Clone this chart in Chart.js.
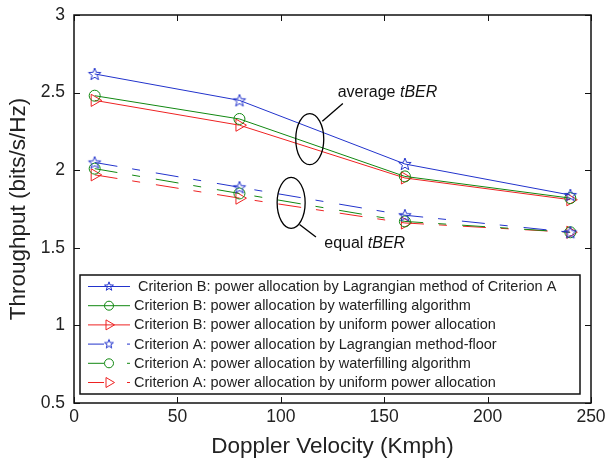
<!DOCTYPE html>
<html>
<head>
<meta charset="utf-8">
<script src="https://cdn.jsdelivr.net/npm/chart.js@4.4.0/dist/chart.umd.min.js"></script>
<style>
  html, body { margin: 0; padding: 0; background: #fff; }
  #wrap { width: 609px; height: 460px; }
</style>
</head>
<body>
<div id="wrap"><canvas id="chart" width="609" height="460"></canvas></div>
<script>
// doppler velocity (Kmph)
const velocities = [10, 80, 160, 240];
// average tBER (Criterion B)
const critBLagrange = [2.62, 2.45, 2.04, 1.84];
const critBWaterfill = [2.48, 2.33, 1.96, 1.82];
const critBUniform = [2.45, 2.29, 1.95, 1.81];
// equal tBER (Criterion A)
const critALagrange = [2.05, 1.89, 1.71, 1.60];
const critAWaterfill = [2.01, 1.85, 1.67, 1.60];
const critAUniform = [1.97, 1.82, 1.66, 1.60];

const seriesLabels = [
  "Criterion B: power allocation by Lagrangian method of Criterion A",
  "Criterion B: power allocation by waterfilling algorithm",
  "Criterion B: power allocation by uniform power allocation",
  "Criterion A: power allocation by Lagrangian method-floor",
  "Criterion A: power allocation by waterfilling algorithm",
  "Criterion A: power allocation by uniform power allocation"
];
const xTicks = [0, 50, 100, 150, 200, 250];
const yTicks = [0.5, 1, 1.5, 2, 2.5, 3];

const BLUE = '#2233cc';
const GREEN = '#118811';
const RED = '#ee2222';
const DASH = [23, 15, 8, 16];
const FONT = '"Liberation Sans", Arial, Helvetica, sans-serif';

function starImage(color, k) {
  const c = document.createElement('canvas');
  c.width = 16; c.height = 16;
  const g = c.getContext('2d');
  g.strokeStyle = color;
  g.lineWidth = 1;
  g.beginPath();
  for (let i = 0; i < 10; i++) {
    const r = (i % 2 === 0 ? 6.5 : 2.7) * k;
    const a = -Math.PI / 2 + i * Math.PI / 5;
    const px = 8 + r * Math.cos(a), py = 8.5 + r * Math.sin(a);
    if (i === 0) g.moveTo(px, py); else g.lineTo(px, py);
  }
  g.closePath();
  g.stroke();
  return c;
}

function toPoints(arr) {
  return velocities.map((v, i) => ({ x: v, y: arr[i] }));
}

const styles = [
  { data: critBLagrange, color: BLUE, marker: 'star', dash: [] },
  { data: critBWaterfill, color: GREEN, marker: 'circle', dash: [] },
  { data: critBUniform, color: RED, marker: 'triangle', dash: [] },
  { data: critALagrange, color: BLUE, marker: 'star', dash: DASH },
  { data: critAWaterfill, color: GREEN, marker: 'circle', dash: DASH },
  { data: critAUniform, color: RED, marker: 'triangle', dash: DASH }
];

const datasets = styles.map((s, i) => ({
  label: seriesLabels[i],
  data: toPoints(s.data),
  borderColor: s.color,
  backgroundColor: 'rgba(0,0,0,0)',
  borderWidth: 1,
  borderDash: s.dash,
  pointStyle: s.marker === 'star' ? starImage(s.color, 1) : s.marker,
  pointRotation: s.marker === 'triangle' ? 90 : 0,
  pointRadius: s.marker === 'triangle' ? 7 : 5.5,
  pointBorderColor: s.color,
  pointBackgroundColor: 'rgba(0,0,0,0)',
  pointBorderWidth: 1,
  tension: 0
}));

// smaller markers for the legend samples
function drawMarker(ctx, s, x, y) {
  ctx.save();
  ctx.setLineDash([]);
  ctx.strokeStyle = s.color;
  ctx.lineWidth = 1;
  if (s.marker === 'star') {
    ctx.drawImage(starImage(s.color, 0.72), x - 8, y - 8.5);
  } else if (s.marker === 'circle') {
    ctx.beginPath();
    ctx.arc(x, y, 4.5, 0, Math.PI * 2);
    ctx.stroke();
  } else {
    ctx.beginPath();
    ctx.moveTo(x + 5.5, y);
    ctx.lineTo(x - 3, y - 5);
    ctx.lineTo(x - 3, y + 5);
    ctx.closePath();
    ctx.stroke();
  }
  ctx.restore();
}

const framePlugin = {
  id: 'framePlugin',
  afterDraw(chart) {
    const { ctx, chartArea: a, scales } = chart;
    ctx.save();
    ctx.strokeStyle = '#111';
    ctx.lineWidth = 1.5;
    ctx.strokeRect(a.left, a.top, a.right - a.left, a.bottom - a.top);
    ctx.lineWidth = 1;
    ctx.beginPath();
    const tl = 6;
    xTicks.forEach(v => {
      const px = Math.round(scales.x.getPixelForValue(v)) + 0.5;
      ctx.moveTo(px, a.bottom); ctx.lineTo(px, a.bottom - tl);
      ctx.moveTo(px, a.top); ctx.lineTo(px, a.top + tl);
    });
    yTicks.forEach(v => {
      const py = Math.round(scales.y.getPixelForValue(v)) + 0.5;
      ctx.moveTo(a.left, py); ctx.lineTo(a.left + tl, py);
      ctx.moveTo(a.right, py); ctx.lineTo(a.right - tl, py);
    });
    ctx.stroke();

    // annotations
    const ann = [
      { cx: 114, cy: 2.2, label: 'average ', tx: 127.5, ty: 2.5, lx0: 0.9, ly0: -0.7, lx1: 130, ly1: 2.43 },
      { cx: 105, cy: 1.79, label: 'equal ', tx: 121, ty: 1.53, lx0: 0.6, ly0: 0.85, lx1: 117, ly1: 1.57 }
    ];
    ann.forEach(n => {
      const cx = scales.x.getPixelForValue(n.cx), cy = scales.y.getPixelForValue(n.cy);
      const rx = 14, ry = 25.5;
      ctx.strokeStyle = '#000';
      ctx.lineWidth = 1.3;
      ctx.beginPath();
      ctx.ellipse(cx, cy, rx, ry, 0, 0, Math.PI * 2);
      ctx.stroke();
      ctx.beginPath();
      ctx.moveTo(cx + rx * n.lx0, cy + ry * n.ly0);
      ctx.lineTo(scales.x.getPixelForValue(n.lx1), scales.y.getPixelForValue(n.ly1));
      ctx.stroke();
      const tx = scales.x.getPixelForValue(n.tx), ty = scales.y.getPixelForValue(n.ty);
      ctx.fillStyle = '#111';
      ctx.textBaseline = 'middle';
      ctx.textAlign = 'left';
      ctx.font = '16px ' + FONT;
      ctx.fillText(n.label, tx, ty);
      const w = ctx.measureText(n.label).width;
      ctx.font = 'italic 16px ' + FONT;
      ctx.fillText('tBER', tx + w, ty);
    });

    // legend inside the axes
    const lx = a.left + 6, ly = 275, lw = 500, lh = 119;
    ctx.fillStyle = '#fff';
    ctx.fillRect(lx, ly, lw, lh);
    ctx.strokeStyle = '#111';
    ctx.lineWidth = 1.5;
    ctx.strokeRect(lx, ly, lw, lh);
    ctx.font = '14.5px ' + FONT;
    ctx.textBaseline = 'middle';
    styles.forEach((s, i) => {
      const y = ly + 11.5 + i * 19.2;
      ctx.strokeStyle = s.color;
      ctx.lineWidth = 1;
      ctx.beginPath();
      if (s.dash.length) {
        ctx.moveTo(lx + 8, y); ctx.lineTo(lx + 24, y);
        ctx.moveTo(lx + 47, y); ctx.lineTo(lx + 50, y);
      } else {
        ctx.moveTo(lx + 8, y); ctx.lineTo(lx + 50, y);
      }
      ctx.stroke();
      drawMarker(ctx, s, lx + 29, y);
      ctx.fillStyle = '#222';
      ctx.fillText(seriesLabels[i], lx + (i === 0 ? 58 : 54), y + 0.5);
    });
    ctx.restore();
  }
};

new Chart(document.getElementById('chart'), {
  type: 'line',
  data: { datasets },
  options: {
    responsive: false,
    animation: false,
    layout: { padding: { left: 0, right: 18, top: 15, bottom: 0 } },
    plugins: { legend: { display: false }, tooltip: { enabled: false } },
    scales: {
      x: {
        type: 'linear',
        min: 0, max: 250,
        grid: { display: false, drawTicks: false },
        border: { display: false },
        ticks: { stepSize: 50, color: '#222', font: { family: FONT, size: 17.5 }, padding: 4, maxRotation: 0 },
        title: { display: true, text: 'Doppler Velocity (Kmph)', color: '#222', font: { family: FONT, size: 22.5 }, padding: { top: 0, bottom: 0 } },
        afterFit(scale) { scale.height = 57; scale.paddingLeft = 0; scale.paddingRight = 0; }
      },
      y: {
        min: 0.5, max: 3,
        grid: { display: false, drawTicks: false },
        border: { display: false },
        ticks: {
          stepSize: 0.5, color: '#222', font: { family: FONT, size: 17.5 }, padding: 9,
          callback: v => String(Number(v))
        },
        title: { display: true, text: 'Throughput (bits/s/Hz)', color: '#222', font: { family: FONT, size: 22.5 }, padding: { top: 5.5, bottom: 0 } },
        afterFit(scale) { scale.width = 74; scale.paddingTop = 0; scale.paddingBottom = 0; }
      }
    }
  },
  plugins: [framePlugin]
});
</script>
</body>
</html>
